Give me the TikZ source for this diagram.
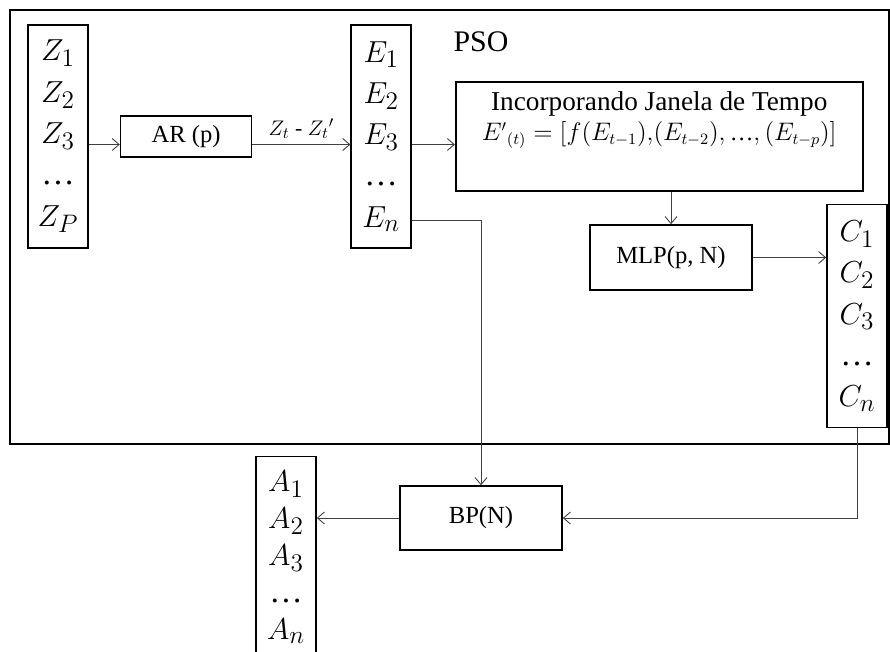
\documentclass[tikz,border=0pt]{standalone}
\usepackage{amsmath,amssymb}
\usepackage{fontspec}
\setmainfont{Liberation Serif}
\usepackage{tikz}
\usetikzlibrary{arrows.meta,positioning}

\newcommand{\vdotsrow}{\text{…}}

\begin{document}
\begin{tikzpicture}[
  x=0.2mm, y=-0.2mm,
  node distance=5mm and 7mm,
  box/.style={draw,line width=0.9pt,align=center,inner sep=1mm,
              font=\fontsize{14}{17}\selectfont},
  vec/.style={draw,line width=0.9pt,align=center,minimum width=12mm,
              minimum height=44.6mm,inner sep=0pt,
              font=\fontsize{19}{23.5}\selectfont},
  frame/.style={line width=1.3pt},
  flow/.style={-{Straight Barb[length=1.4mm,width=2.4mm]},black!75,line width=0.5pt}
]
\useasboundingbox (0,0) rectangle (890,652);
% PSO region
\draw[frame] (10,10) rectangle (889,444);
\node[font=\fontsize{17}{20}\selectfont] (pso) at (481,42) {PSO};

\node[vec] (zvec) at (58,136.5) {$Z_1$\\$Z_2$\\$Z_3$\\…\\$Z_P$};
\node[box,right=6.2mm of zvec,minimum width=26.2mm,minimum height=8.2mm] (ar) {AR (p)};
\node[vec,right=19.6mm of ar] (evec) {$E_1$\\$E_2$\\$E_3$\\…\\$E_n$};
\node[box,right=8.6mm of evec,minimum width=81.4mm,minimum height=21.8mm] (win)
  {{\fontsize{15.5}{18}\selectfont Incorporando Janela de Tempo}\\[0pt]
   {\fontsize{13.5}{16}\selectfont${E'}_{(t)}=[f(E_{t-1}){,}(E_{t-2}){,}\,\vdotsrow{,}\,(E_{t-p})]$}\\[6pt]\mbox{}};
\node[box,minimum width=32.4mm,minimum height=13mm] (mlp) at (671,257.5) {MLP(p, N)};
\node[vec] (cvec) at (857,316) {$C_1$\\$C_2$\\$C_3$\\…\\$C_n$};

% outside PSO
\node[box,minimum width=32.4mm,minimum height=12.8mm] (bp) at (481,518) {BP(N)};
\node[vec,font=\fontsize{19}{21}\selectfont] (avec) at (286,568)
  {$A_1$\\$A_2$\\$A_3$\\…\\$A_n$\\[-6pt]\mbox{}};

\draw[flow] ([yshift=-1.6mm]zvec.east) -- ([yshift=-1.6mm]ar.west);
\draw[flow] ([yshift=-1.6mm]ar.east) -- node[above,black,font=\fontsize{12.5}{14}\selectfont,inner sep=3pt] {$Z_t$ - $Z_t{}'$} ([yshift=-1.6mm]evec.west);
\draw[flow] ([yshift=-1.6mm]evec.east) -- ([yshift=-1.6mm]win.west);
\draw[flow] (mlp.north |- win.south) -- (mlp.north);
\draw[flow] (mlp.east) -- (mlp.east -| cvec.west);
\draw[flow] ([yshift=-16.7mm]evec.east) -| (bp.north);
\draw[flow] (cvec.south) |- (bp.east);
\draw[flow] (bp.west) -- (bp.west -| avec.east);
\end{tikzpicture}
\end{document}
